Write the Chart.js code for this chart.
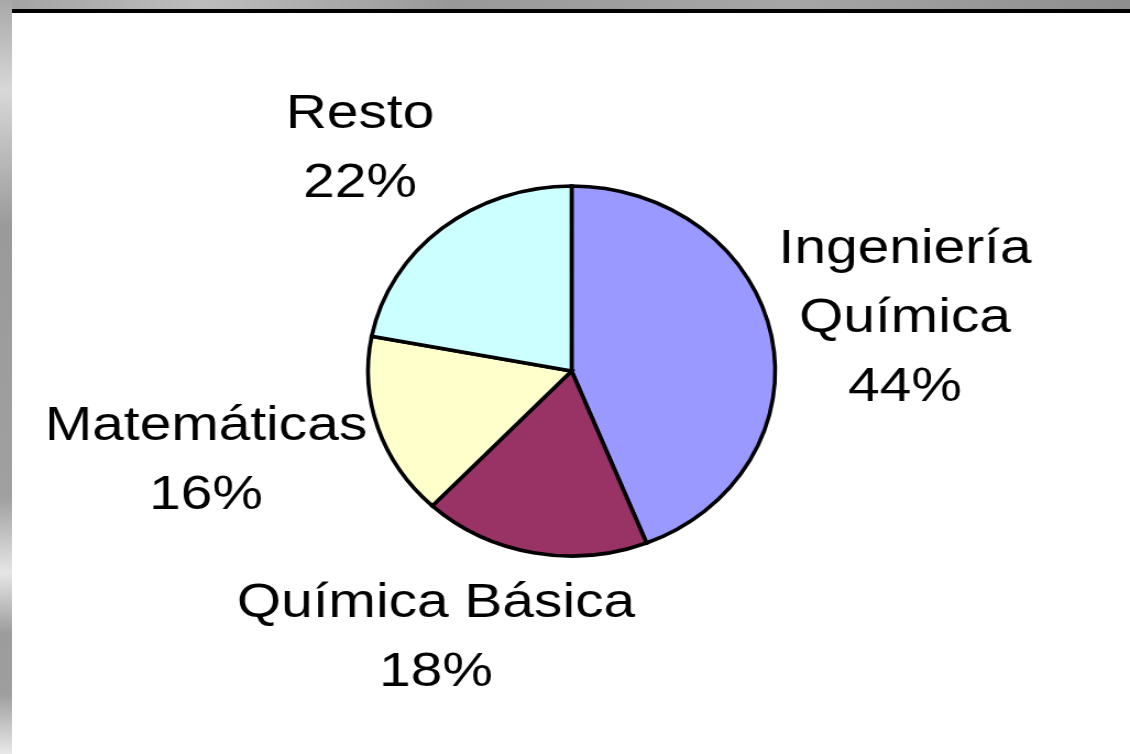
<!DOCTYPE html>
<html><head><meta charset="utf-8">
<script src="https://cdn.jsdelivr.net/npm/chart.js@4"></script>
<style>
html,body{margin:0;padding:0;width:1130px;height:754px;overflow:hidden;}
body{background:linear-gradient(90deg,#a2a2a2 0%,#bdbdbd 18%,#999 40%,#a6a6a6 70%,#8e8e8e 100%);}
#left{position:absolute;left:0;top:0;width:12px;height:754px;background:linear-gradient(180deg,#a8a8a8 0%,#d8d8d8 12%,#9a9a9a 30%,#a0a0a0 66%,#e6e6e6 76%,#9c9c9c 84%,#9e9e9e 92%,#e8e8e8 100%);}
#panel{position:absolute;left:12px;top:9px;width:1118px;height:745px;background:#fff;border-top:4px solid #000;box-sizing:border-box;}
#wrap{position:absolute;left:0;top:0;width:1027px;height:754px;transform:scaleX(1.10029);transform-origin:0 0;}
</style></head><body>
<div id="left"></div>
<div id="panel"></div>
<div id="wrap"><canvas id="c" width="1027" height="754"></canvas></div>
<script>
// ---- data ----
const categories = ['Ingeniería Química', 'Química Básica', 'Matemáticas', 'Resto'];
const labelLines = [['Ingeniería', 'Química'], ['Química Básica'], ['Matemáticas'], ['Resto']];
const shares = [44, 18, 16, 22];
const sliceColors = ['#9999FF', '#993366', '#FFFFCC', '#CCFFFF'];

// ---- layout ----
const SX = 1130 / 1027; // horizontal stretch of the whole picture
const TEXT_SX = 1.055;   // extra horizontal stretch of label text
const labelLayout = [
  {x: 905, y: 263},
  {x: 436, y: 617},
  {x: 206, y: 440},
  {x: 360, y: 128}
];
const LINE_H = 69;

const outsideLabels = {
  id: 'outsideLabels',
  afterDatasetsDraw(chart) {
    const ctx = chart.ctx;
    const meta = chart.getDatasetMeta(0);
    meta.data.forEach((arc, i) => {
      const lines = labelLines[i].concat([shares[i] + '%']);
      const pos = labelLayout[i];
      lines.forEach((t, k) => {
        ctx.save();
        ctx.fillStyle = '#000';
        ctx.font = '49px "Liberation Sans", Arial, sans-serif';
        ctx.textAlign = 'center';
        ctx.textBaseline = 'alphabetic';
        ctx.translate(pos.x / SX, pos.y + k * LINE_H);
        ctx.scale(TEXT_SX, 1);
        ctx.fillText(t, 0, 0);
        ctx.restore();
      });
    });
  }
};

new Chart(document.getElementById('c'), {
  type: 'pie',
  data: {
    labels: categories,
    datasets: [{
      data: shares,
      backgroundColor: sliceColors,
      borderColor: '#000',
      borderWidth: 3.6,
      borderJoinStyle: 'miter'
    }]
  },
  options: {
    responsive: false,
    animation: false,
    devicePixelRatio: 1,
    radius: 185,
    layout: {padding: {left: 12, right: 0, top: 0, bottom: 12}},
    plugins: {legend: {display: false}, tooltip: {enabled: false}}
  },
  plugins: [outsideLabels]
});
</script>
</body></html>
